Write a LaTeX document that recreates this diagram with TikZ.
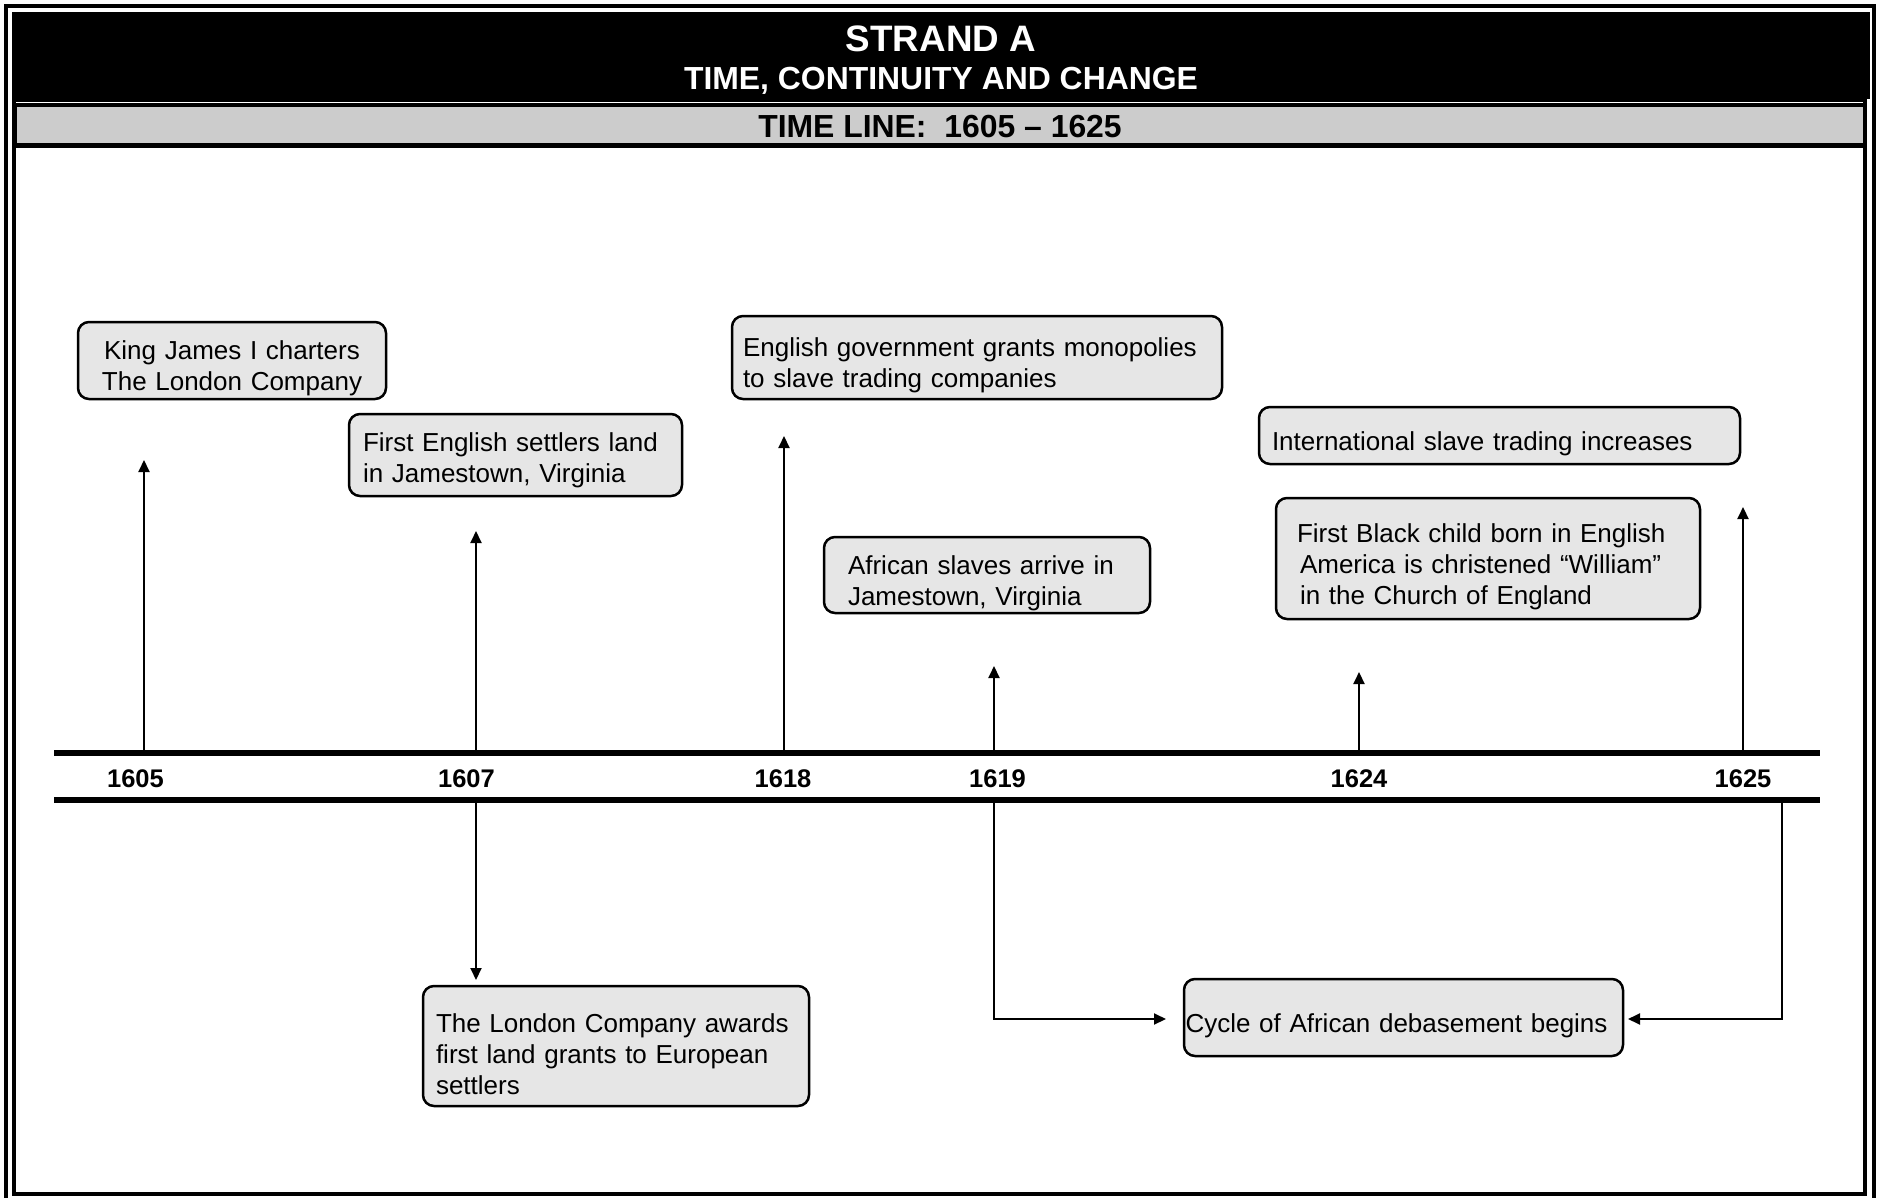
\documentclass[tikz,border=0pt]{standalone}
\usepackage{fontspec}
\setmainfont{Liberation Sans}
\usetikzlibrary{arrows.meta}
\definecolor{boxgray}{HTML}{E6E6E6}
\definecolor{bargray}{HTML}{CCCCCC}
\def\evrh{35pt}
\tikzset{
  rh/.store in=\evrh,
  evbox/.style={draw=black, line width=2.5pt, fill=boxgray, rounded corners=11pt,
    inner ysep=0pt, font=\fontsize{26}{31}\selectfont, align=left,
    execute at begin node={\rule{0pt}{\evrh}}},
  conn/.style={line width=2pt, -{Triangle[length=12pt,width=11pt]}},
  yearlbl/.style={font=\bfseries\fontsize{25.5}{30}\selectfont, anchor=base},
  tline/.style={line width=6pt},
  frameline/.style={line width=4pt},
}
\begin{document}
\begin{tikzpicture}[x=1pt,y=-1pt]
\useasboundingbox (0,0) rectangle (1879,1198);
% frames
\draw[frameline] (5.5,6.5) rectangle (1874,1215);
\draw[frameline] (14,100) rectangle (1865,1194);
\fill[black] (12,12) rectangle (1870,99);
\draw[line width=4.5pt, fill=bargray] (14.25,105.25) rectangle (1864.75,145.75);
% titles
\node[font=\bfseries\fontsize{36.8}{40}\selectfont, text=white, anchor=base] (title) at (941,52) {STRAND A};
\node[font=\bfseries\fontsize{31.9}{36}\selectfont, text=white, anchor=base] (subtitle) at (941,90) {TIME, CONTINUITY AND CHANGE};
\node[font=\bfseries\fontsize{31.9}{36}\selectfont, anchor=base] (tltitle) at (940,138) {TIME LINE:\ \ 1605 – 1625};
% timeline
\coordinate (tlA) at (54,753); \coordinate (tlB) at (1820,753);
\coordinate (tlC) at (54,800); \coordinate (tlD) at (1820,800);
\draw[tline] (tlA) -- (tlB);
\draw[tline] (tlC) -- (tlD);
% years
\node[yearlbl] (y1605) at (135.5,787) {1605};
\node[yearlbl] (y1607) at (466.5,787) {1607};
\node[yearlbl] (y1618) at (783,787) {1618};
\node[yearlbl] (y1619) at (997.5,787) {1619};
\node[yearlbl] (y1624) at (1359,787) {1624};
\node[yearlbl] (y1625) at (1743,787) {1625};
% boxes
\node[evbox, align=center, inner xsep=10pt, text width=288pt, minimum height=77pt] (b1) at (232,360.5)
  {King James I charters\\The London Company};
\node[evbox, rh=28.5pt, inner xsep=14pt, text width=305pt, minimum height=82pt] (b2) at (515.5,455)
  {First English settlers land\\in Jamestown, Virginia};
\node[evbox, inner xsep=11pt, text width=468pt, minimum height=83pt] (b3) at (977,357.5)
  {English government grants monopolies\\to slave trading companies};
\node[evbox, inner xsep=24pt, text width=278pt, minimum height=76pt] (b4) at (987,575)
  {African slaves arrive in\\Jamestown, Virginia};
\node[evbox, inner xsep=13pt, text width=455pt, minimum height=57pt] (b5) at (1499.5,435.5)
  {International slave trading increases};
\node[evbox, inner xsep=21pt, text width=382pt, minimum height=121pt] (b6) at (1488,558.5)
  {First Black child born in English\\\hspace*{3pt}America is christened “William”\\\hspace*{3pt}in the Church of England};
\node[evbox, inner xsep=13pt, text width=360pt, minimum height=120pt] (b7) at (616,1046)
  {The London Company awards\\first land grants to European\\settlers};
\node[evbox, inner xsep=1.5pt, text width=436pt, minimum height=77pt] (b8) at (1403.5,1017.5)
  {Cycle of African debasement begins};
% up arrows
\coordinate (u1s) at (144,750);  \coordinate (u1e) at (144,460);
\coordinate (u2s) at (476,750);  \coordinate (u2e) at (476,531);
\coordinate (u3s) at (784,750);  \coordinate (u3e) at (784,436);
\coordinate (u4s) at (994,750);  \coordinate (u4e) at (994,666);
\coordinate (u5s) at (1359,750); \coordinate (u5e) at (1359,672);
\coordinate (u6s) at (1743,750); \coordinate (u6e) at (1743,507);
\draw[conn] (u1s) -- (u1e);
\draw[conn] (u2s) -- (u2e);
\draw[conn] (u3s) -- (u3e);
\draw[conn] (u4s) -- (u4e);
\draw[conn] (u5s) -- (u5e);
\draw[conn] (u6s) -- (u6e);
% down connectors
\coordinate (d1s) at (476,803);  \coordinate (d1e) at (476,980);
\coordinate (d2s) at (994,803);  \coordinate (d2e) at (1166,1019);
\coordinate (d3s) at (1782,803); \coordinate (d3e) at (1628,1019);
\draw[conn] (d1s) -- (d1e);
\draw[conn] (d2s) |- (d2e);
\draw[conn] (d3s) |- (d3e);
\end{tikzpicture}
\end{document}
